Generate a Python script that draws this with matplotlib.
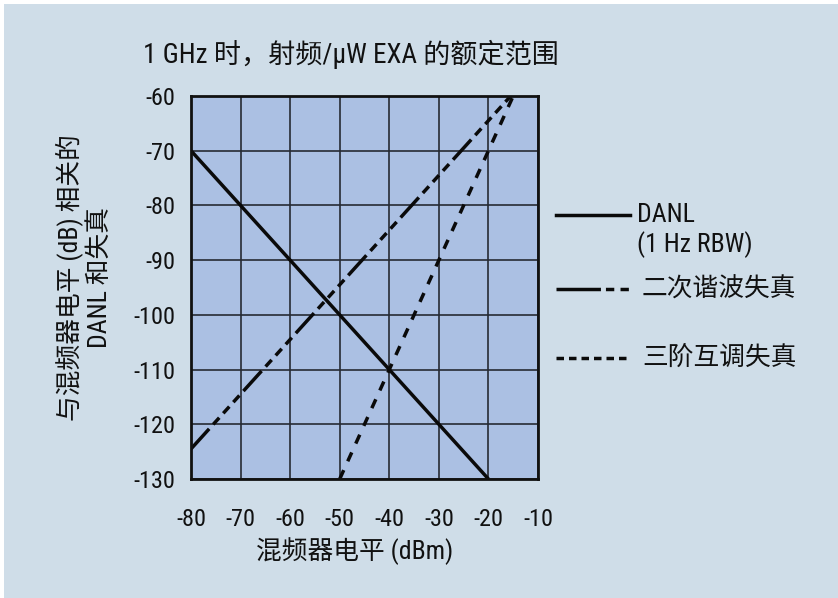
import matplotlib
matplotlib.use("Agg")
import matplotlib.pyplot as plt
from matplotlib.lines import Line2D
from matplotlib.patches import Rectangle

# ---- data ----
x_ticks = [-80, -70, -60, -50, -40, -30, -20, -10]
y_ticks = [-130, -120, -110, -100, -90, -80, -70, -60]

danl_x = [-80, -20]
danl_y = [-70, -130]

shd_x = [-80, -15.5]
shd_y = [-124.5, -60]

toi_x = [-50, -15]
toi_y = [-130, -60]

title = "1 GHz 时，射频/μW EXA 的额定范围"
xlabel = "混频器电平 (dBm)"
ylabel = "与混频器电平 (dB) 相关的\nDANL 和失真"
leg_danl = "DANL"
leg_danl2 = "(1 Hz RBW)"
leg_shd = "二次谐波失真"
leg_toi = "三阶互调失真"

plt.rcParams['font.family'] = ['Roboto Condensed', 'Barlow Semi Condensed',
                               'Noto Sans CJK SC', 'DejaVu Sans']
plt.rcParams['lines.scale_dashes'] = False

W, H = 838, 598
fig = plt.figure(figsize=(W / 100, H / 100), dpi=100, facecolor='white')
fig.patches.append(Rectangle((4 / W, 0), 1 - 4 / W, 1 - 4 / H, transform=fig.transFigure,
                             facecolor='#cfdde8', edgecolor='none', zorder=-10))

ax = fig.add_axes([191 / W, 1 - 479 / H, (538 - 191) / W, (479 - 96) / H])
ax.set_facecolor('#abc0e3')
ax.set_xlim(-80, -10)
ax.set_ylim(-130, -60)
ax.set_xticks(x_ticks)
ax.set_yticks(y_ticks)
ax.set_xticklabels([str(v) for v in x_ticks])
ax.set_yticklabels([str(v) for v in y_ticks])
ax.grid(True, color='#262a33', lw=1.2)
ax.set_axisbelow(True)
ax.tick_params(length=0, labelsize=17.5, colors='#111111')
ax.tick_params(axis='x', pad=21)
ax.tick_params(axis='y', pad=11)
for s in ax.spines.values():
    s.set_linewidth(2)
    s.set_color('#111111')

lw = 2.5
ax.plot(danl_x, danl_y, color='#0a0a0a', lw=lw, solid_capstyle='butt')
ax.plot(shd_x, shd_y, color='#0a0a0a', lw=lw,
        dashes=(19.5, 4.3, 6.5, 4.3, 6.5, 4.3, 6.5, 4.3), dash_capstyle='butt')
ax.plot(toi_x, toi_y, color='#0a0a0a', lw=lw, dashes=(7.0, 7.0), dash_capstyle='butt')

tc = '#111111'
fs = 18.5
fig.text(143 / W, 1 - 54 / H, title, fontsize=19.5, color=tc, ha='left', va='center')
fig.text(355 / W, 1 - 551 / H, xlabel, fontsize=fs, color=tc, ha='center', va='center')
fig.text(84 / W, 1 - 278 / H, ylabel, fontsize=fs, color=tc, ha='center', va='center',
         rotation=90, multialignment='center', linespacing=1.2)

# legend
def fy(py):
    return 1 - py / H

fig.add_artist(Line2D([556 / W, 630 / W], [fy(215), fy(215)], color='#0a0a0a', lw=lw,
                      transform=fig.transFigure))
fig.text(637 / W, fy(215), leg_danl, fontsize=fs, color=tc, ha='left', va='center')
fig.text(637 / W, fy(245), leg_danl2, fontsize=fs, color=tc, ha='left', va='center')

fig.add_artist(Line2D([556 / W, 629 / W], [fy(289), fy(289)], color='#0a0a0a', lw=lw,
                      transform=fig.transFigure, dashes=(32, 3.6, 6, 4.5, 6, 50),
                      dash_capstyle='butt'))
fig.text(642 / W, fy(289), leg_shd, fontsize=fs, color=tc, ha='left', va='center')

fig.add_artist(Line2D([556 / W, 630 / W], [fy(358), fy(358)], color='#0a0a0a', lw=lw,
                      transform=fig.transFigure, dashes=(5.4, 3.6), dash_capstyle='butt'))
fig.text(642 / W, fy(358), leg_toi, fontsize=fs, color=tc, ha='left', va='center')

fig.savefig('out.png', dpi=100, facecolor=fig.get_facecolor())
